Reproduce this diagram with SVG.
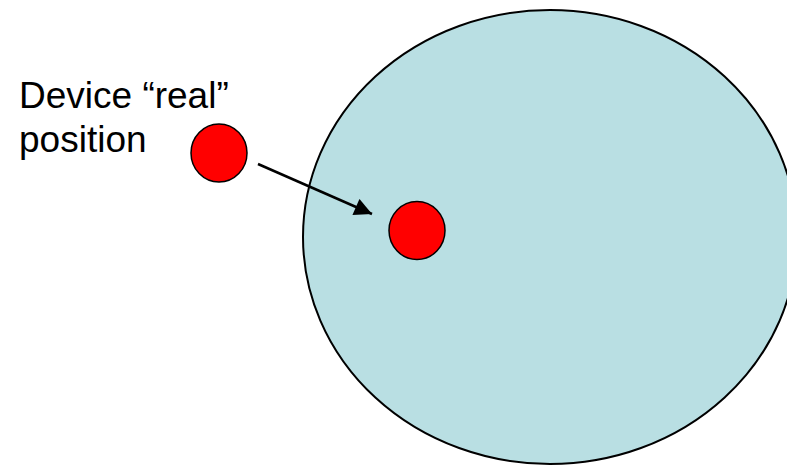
<svg xmlns="http://www.w3.org/2000/svg" width="787" height="465" viewBox="0 0 787 465">
<style>
.dev{fill:#ff0000;stroke:#000;stroke-width:1.5}
.lbl{font-family:"Liberation Sans",Arial,sans-serif;font-size:37px;fill:#000}
</style>
<defs>
<marker id="ah" viewBox="0 0 10 10" refX="10" refY="5" markerWidth="8.5" markerHeight="7" markerUnits="strokeWidth" orient="auto">
<path d="M0,0 L10,5 L0,10 z" fill="#000"/>
</marker>
</defs>
<rect width="787" height="465" fill="#fff"/>
<g id="area"><ellipse cx="550" cy="237" rx="247" ry="227" fill="#b9dfe3" stroke="#000" stroke-width="2"/></g>
<g id="label"><text class="lbl" x="19" y="108">Device “real”</text><text class="lbl" x="19" y="152">position</text></g>
<g id="real"><ellipse class="dev" cx="219" cy="153" rx="28" ry="29"/></g>
<g id="estimated"><ellipse class="dev" cx="417" cy="230.5" rx="28" ry="29"/></g>
<g id="connectors"><line x1="258" y1="164" x2="372" y2="214" stroke="#000" stroke-width="2.5" marker-end="url(#ah)"/></g>
</svg>
